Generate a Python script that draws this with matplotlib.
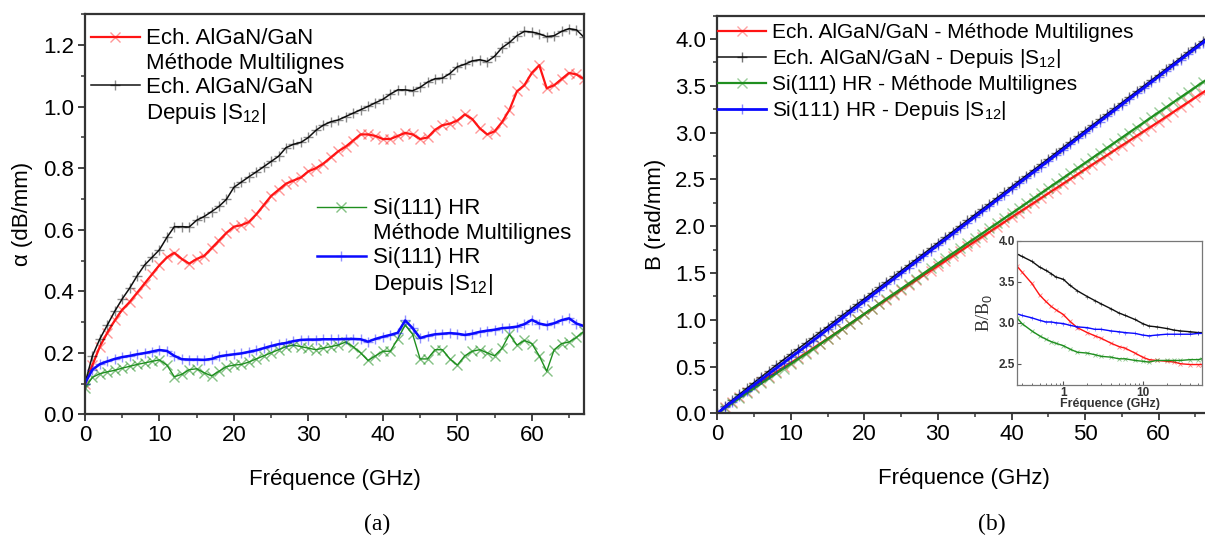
import numpy as np
import matplotlib
matplotlib.use("Agg")
import matplotlib.pyplot as plt
from matplotlib.lines import Line2D
from matplotlib.ticker import MultipleLocator

plt.rcParams['font.family'] = ['Liberation Sans', 'DejaVu Sans']
plt.rcParams['mathtext.fontset'] = 'custom'
plt.rcParams['mathtext.rm'] = 'Liberation Sans'
plt.rcParams['mathtext.it'] = 'Liberation Sans'

# ---- data ----
# (a) attenuation alpha (dB/mm), sampled every 1 GHz from 0 to 67 GHz
freq_a = np.arange(0, 68)
alpha_ech_multi = [0.10, 0.16, 0.22, 0.265, 0.305, 0.34, 0.365, 0.395, 0.425, 0.455,
                   0.485, 0.51, 0.525, 0.505, 0.49, 0.505, 0.515, 0.54, 0.565, 0.59,
                   0.61, 0.615, 0.625, 0.65, 0.68, 0.71, 0.73, 0.75, 0.76, 0.77,
                   0.79, 0.80, 0.815, 0.835, 0.855, 0.87, 0.89, 0.91, 0.91, 0.905,
                   0.895, 0.895, 0.905, 0.915, 0.91, 0.895, 0.90, 0.925, 0.94, 0.945,
                   0.955, 0.975, 0.96, 0.93, 0.91, 0.92, 0.95, 0.99, 1.05, 1.07,
                   1.11, 1.135, 1.06, 1.07, 1.09, 1.11, 1.105, 1.09]
alpha_ech_s12 = [0.10, 0.19, 0.245, 0.29, 0.335, 0.375, 0.41, 0.45, 0.485, 0.51,
                 0.535, 0.575, 0.61, 0.61, 0.609, 0.631, 0.643, 0.659, 0.676, 0.699,
                 0.738, 0.755, 0.772, 0.788, 0.805, 0.822, 0.839, 0.867, 0.878, 0.884,
                 0.90, 0.923, 0.94, 0.951, 0.957, 0.968, 0.979, 0.99, 1.001, 1.013,
                 1.024, 1.041, 1.055, 1.055, 1.052, 1.063, 1.08, 1.091, 1.093, 1.108,
                 1.13, 1.138, 1.149, 1.153, 1.147, 1.164, 1.192, 1.209, 1.231, 1.245,
                 1.243, 1.237, 1.228, 1.231, 1.245, 1.254, 1.25, 1.226]
alpha_si_multi = [0.085, 0.12, 0.132, 0.138, 0.143, 0.15, 0.156, 0.162, 0.167, 0.172,
                  0.177, 0.16, 0.122, 0.13, 0.145, 0.148, 0.135, 0.125, 0.14, 0.155,
                  0.16, 0.162, 0.17, 0.18, 0.19, 0.20, 0.21, 0.22, 0.225, 0.22,
                  0.215, 0.21, 0.215, 0.22, 0.225, 0.235, 0.22, 0.20, 0.175, 0.19,
                  0.205, 0.205, 0.245, 0.29, 0.26, 0.18, 0.18, 0.21, 0.21, 0.18,
                  0.16, 0.19, 0.205, 0.21, 0.20, 0.19, 0.215, 0.26, 0.225, 0.24,
                  0.23, 0.19, 0.14, 0.21, 0.23, 0.235, 0.25, 0.27]
alpha_si_s12 = [0.10, 0.145, 0.163, 0.172, 0.18, 0.186, 0.19, 0.195, 0.199, 0.204,
                0.209, 0.206, 0.19, 0.179, 0.178, 0.178, 0.177, 0.18, 0.188, 0.192,
                0.195, 0.198, 0.203, 0.208, 0.215, 0.222, 0.228, 0.232, 0.238, 0.242,
                0.243, 0.243, 0.244, 0.244, 0.244, 0.245, 0.245, 0.244, 0.236, 0.245,
                0.252, 0.258, 0.265, 0.305, 0.28, 0.248, 0.255, 0.26, 0.262, 0.264,
                0.262, 0.258, 0.262, 0.268, 0.272, 0.275, 0.28, 0.282, 0.285, 0.293,
                0.307, 0.295, 0.29, 0.296, 0.306, 0.312, 0.295, 0.287]

# (b) phase constant B (rad/mm), sampled every 1 GHz from 0 to 67 GHz
freq_b = np.arange(0, 68)
beta_ech_multi = [0.000, 0.065, 0.121, 0.176, 0.230, 0.284, 0.337, 0.389, 0.439, 0.490,
                  0.540, 0.590, 0.641, 0.694, 0.746, 0.798, 0.851, 0.903, 0.955, 1.008,
                  1.060, 1.112, 1.164, 1.215, 1.267, 1.319, 1.371, 1.422, 1.474, 1.525,
                  1.577, 1.629, 1.681, 1.732, 1.784, 1.836, 1.887, 1.939, 1.991, 2.043,
                  2.095, 2.146, 2.197, 2.248, 2.300, 2.351, 2.402, 2.454, 2.505, 2.556,
                  2.608, 2.659, 2.710, 2.760, 2.811, 2.862, 2.913, 2.964, 3.015, 3.065,
                  3.116, 3.168, 3.220, 3.272, 3.324, 3.376, 3.428, 3.480]
beta_ech_s12 = [0.000, 0.074, 0.139, 0.204, 0.266, 0.329, 0.391, 0.452, 0.513, 0.573,
                0.632, 0.691, 0.749, 0.809, 0.868, 0.927, 0.987, 1.047, 1.106, 1.166,
                1.225, 1.285, 1.345, 1.404, 1.464, 1.524, 1.584, 1.643, 1.703, 1.763,
                1.822, 1.882, 1.942, 2.002, 2.062, 2.122, 2.181, 2.241, 2.301, 2.361,
                2.421, 2.481, 2.541, 2.601, 2.661, 2.721, 2.781, 2.841, 2.901, 2.961,
                3.021, 3.081, 3.141, 3.200, 3.260, 3.320, 3.380, 3.440, 3.500, 3.560,
                3.619, 3.679, 3.739, 3.799, 3.860, 3.920, 3.980, 4.041]
beta_si_multi = [0.000, 0.057, 0.110, 0.163, 0.216, 0.269, 0.322, 0.375, 0.427, 0.479,
                 0.530, 0.582, 0.633, 0.687, 0.740, 0.795, 0.849, 0.902, 0.956, 1.010,
                 1.064, 1.118, 1.171, 1.225, 1.278, 1.332, 1.386, 1.440, 1.494, 1.548,
                 1.602, 1.655, 1.709, 1.762, 1.816, 1.869, 1.922, 1.976, 2.029, 2.083,
                 2.136, 2.190, 2.244, 2.298, 2.352, 2.406, 2.460, 2.514, 2.568, 2.622,
                 2.676, 2.730, 2.784, 2.838, 2.892, 2.946, 3.001, 3.055, 3.109, 3.163,
                 3.217, 3.270, 3.324, 3.378, 3.431, 3.485, 3.539, 3.592]
beta_si_s12 = [0.000, 0.063, 0.123, 0.183, 0.243, 0.303, 0.362, 0.422, 0.481, 0.539,
               0.598, 0.657, 0.716, 0.776, 0.836, 0.897, 0.957, 1.018, 1.078, 1.138,
               1.198, 1.258, 1.318, 1.378, 1.438, 1.498, 1.558, 1.618, 1.678, 1.738,
               1.798, 1.858, 1.918, 1.978, 2.038, 2.098, 2.158, 2.218, 2.278, 2.338,
               2.398, 2.458, 2.518, 2.578, 2.638, 2.698, 2.758, 2.818, 2.878, 2.938,
               2.999, 3.059, 3.119, 3.179, 3.239, 3.299, 3.359, 3.419, 3.479, 3.539,
               3.599, 3.659, 3.720, 3.780, 3.840, 3.900, 3.960, 4.020]

# inset: B/B0 versus frequency (log scale)
freq_in = [0.26, 0.3, 0.4, 0.5, 0.6, 0.7, 0.8, 1, 1.2, 1.5, 2, 2.5, 3, 4, 5, 6,
           8, 10, 12, 15, 20, 25, 30, 40, 50, 56]
ratio_ech_s12 = [3.84, 3.81, 3.75, 3.68, 3.64, 3.60, 3.56, 3.53, 3.46, 3.39, 3.32, 3.27,
                 3.23, 3.17, 3.12, 3.09, 3.04, 2.99, 2.96, 2.95, 2.93, 2.91, 2.90, 2.89,
                 2.88, 2.88]
ratio_ech_multi = [3.69, 3.62, 3.48, 3.34, 3.26, 3.20, 3.16, 3.10, 3.02, 2.94, 2.88, 2.84,
                   2.81, 2.75, 2.71, 2.69, 2.63, 2.58, 2.55, 2.54, 2.53, 2.52, 2.50, 2.49,
                   2.49, 2.49]
ratio_si_s12 = [3.11, 3.09, 3.06, 3.03, 3.01, 3.01, 3.00, 2.99, 2.97, 2.95, 2.94, 2.92,
                2.92, 2.90, 2.89, 2.88, 2.87, 2.85, 2.84, 2.85, 2.86, 2.86, 2.86, 2.86,
                2.87, 2.87]
ratio_si_multi = [3.06, 2.99, 2.90, 2.84, 2.80, 2.77, 2.75, 2.72, 2.68, 2.64, 2.63, 2.61,
                  2.59, 2.58, 2.56, 2.56, 2.54, 2.53, 2.52, 2.54, 2.54, 2.54, 2.54, 2.55,
                  2.55, 2.56]

RED = '#ff1414'
GREEN = '#1f8f1f'
BLUE = '#0a0aff'
BLACK = '#111111'
SPINE = '#333333'
FS = 16


def style_axes(ax, fs=FS):
    for s in ax.spines.values():
        s.set_color(SPINE)
        s.set_linewidth(1.6)
    ax.tick_params(which='both', direction='out', colors=SPINE, labelcolor='black',
                   top=False, right=False)
    ax.tick_params(which='major', length=5, width=1.3, labelsize=fs, pad=3)
    ax.tick_params(which='minor', length=3, width=1.1)


fig = plt.figure(figsize=(12.05, 5.4), dpi=100)

# ---------------- (a) ----------------
ax1 = fig.add_axes([0.0705, 0.2328, 0.4141, 0.7404])
l_r, = ax1.plot(freq_a, alpha_ech_multi, color=RED, lw=1.6, marker='x', ms=7, mew=1.0,
                mec=(1, 0.1, 0.1, 0.45))
l_k, = ax1.plot(freq_a, alpha_ech_s12, color=BLACK, lw=1.1, marker='+', ms=7, mew=1.0,
                mec=(0, 0, 0, 0.45))
l_g, = ax1.plot(freq_a, alpha_si_multi, color=GREEN, lw=1.0, marker='x', ms=7, mew=1.0,
                mec=(0.12, 0.56, 0.12, 0.55))
l_b, = ax1.plot(freq_a, alpha_si_s12, color=BLUE, lw=1.8, marker='+', ms=7, mew=1.0,
                mec=(0.05, 0.05, 1, 0.45))
ax1.set_xlim(0, 67)
ax1.set_ylim(0, 1.3)
ax1.xaxis.set_major_locator(MultipleLocator(10))
ax1.xaxis.set_minor_locator(MultipleLocator(5))
ax1.set_yticks(np.arange(0, 1.21, 0.2))
ax1.yaxis.set_minor_locator(MultipleLocator(0.1))
ax1.yaxis.set_major_formatter(matplotlib.ticker.FormatStrFormatter('%.1f'))
style_axes(ax1)
ax1.set_xlabel('Fréquence (GHz)', fontsize=FS, labelpad=16)
ax1.set_ylabel('α (dB/mm)', fontsize=FS, labelpad=7)

blank = Line2D([], [], linestyle='none')
leg1 = ax1.legend([l_r, blank, l_k, blank],
                  ['Ech. AlGaN/GaN', 'Méthode Multilignes', 'Ech. AlGaN/GaN',
                   'Depuis |S$_{12}$|'],
                  loc='upper left', bbox_to_anchor=(0.012, 0.965), frameon=False,
                  fontsize=FS, handlelength=2.2, handletextpad=0.3,
                  labelspacing=0.14, borderpad=0, borderaxespad=0, numpoints=1)
ax1.add_artist(leg1)
ax1.legend([l_g, blank, l_b, blank],
           ['Si(111) HR', 'Méthode Multilignes', 'Si(111) HR', 'Depuis |S$_{12}$|'],
           loc='upper left', bbox_to_anchor=(0.465, 0.54), frameon=False,
           fontsize=FS, handlelength=2.2, handletextpad=0.3,
           labelspacing=0.16, borderpad=0, borderaxespad=0, numpoints=1)

# ---------------- (b) ----------------
ax2 = fig.add_axes([0.5953, 0.2346, 0.4089, 0.7363])
ax2.plot(freq_b, beta_ech_multi, color=RED, lw=1.6, marker='x', ms=7, mew=1.0,
         mec=(1, 0.1, 0.1, 0.4), label='Ech. AlGaN/GaN - Méthode Multilignes')
ax2.plot(freq_b, beta_ech_s12, color=BLACK, lw=1.1, marker='+', ms=7, mew=1.0,
         mec=(0, 0, 0, 0.55), label='Ech. AlGaN/GaN - Depuis |S$_{12}$|')
ax2.plot(freq_b, beta_si_multi, color=GREEN, lw=1.6, marker='x', ms=7, mew=1.0,
         mec=(0.12, 0.56, 0.12, 0.45), label='Si(111) HR - Méthode Multilignes')
ax2.plot(freq_b, beta_si_s12, color=BLUE, lw=2.0, marker='+', ms=7, mew=1.0,
         mec=(0.05, 0.05, 1, 0.5), label='Si(111) HR - Depuis |S$_{12}$|')
ax2.set_xlim(0, 67)
ax2.set_ylim(0, 4.25)
ax2.xaxis.set_major_locator(MultipleLocator(10))
ax2.xaxis.set_minor_locator(MultipleLocator(5))
ax2.set_yticks(np.arange(0, 4.01, 0.5))
ax2.yaxis.set_minor_locator(MultipleLocator(0.25))
ax2.yaxis.set_major_formatter(matplotlib.ticker.FormatStrFormatter('%.1f'))
style_axes(ax2)
ax2.set_xlabel('Fréquence (GHz)', fontsize=FS, labelpad=16)
ax2.set_ylabel('B (rad/mm)', fontsize=FS, labelpad=7)
ax2.legend(loc='upper left', bbox_to_anchor=(0.002, 0.982), frameon=False,
           fontsize=15, handlelength=2.3, handletextpad=0.3, labelspacing=0.25,
           borderpad=0, borderaxespad=0, numpoints=1)

# inset
axi = fig.add_axes([0.844, 0.287, 0.1535, 0.267])
axi.plot(freq_in, ratio_ech_s12, color=BLACK, lw=1.0, marker='+', ms=3, mew=0.6,
         mec=(0, 0, 0, 0.5))
axi.plot(freq_in, ratio_ech_multi, color=RED, lw=1.0, marker='x', ms=3, mew=0.6,
         mec=(1, 0.1, 0.1, 0.5))
axi.plot(freq_in, ratio_si_s12, color=BLUE, lw=1.0, marker='+', ms=3, mew=0.6,
         mec=(0.05, 0.05, 1, 0.5))
axi.plot(freq_in, ratio_si_multi, color=GREEN, lw=1.0, marker='x', ms=3, mew=0.6,
         mec=(0.12, 0.56, 0.12, 0.5))
axi.set_xscale('log')
axi.set_xlim(0.26, 56)
axi.set_ylim(2.24, 4.0)
axi.set_yticks([2.5, 3.0, 3.5, 4.0])
axi.set_xticks([1, 10])
axi.set_xticklabels(['1', '10'])
axi.yaxis.set_major_formatter(matplotlib.ticker.FormatStrFormatter('%.1f'))
for s in axi.spines.values():
    s.set_color('#777777')
    s.set_linewidth(0.9)
axi.tick_params(which='both', direction='in', colors='#555555', labelcolor='#333333',
                labelsize=8.5, pad=1.5)
axi.tick_params(which='major', length=3)
axi.tick_params(which='minor', length=1.8)
for lab in axi.get_xticklabels() + axi.get_yticklabels():
    lab.set_fontweight('bold')
axi.set_xlabel('Fréquence (GHz)', fontsize=9, labelpad=-1, color='#333333',
               fontweight='bold')
axi.set_ylabel('B/B$_0$', fontsize=13, labelpad=3, family='Liberation Serif',
               color='#333333')

# panel letters
fig.text(0.313, 0.028, '(a)', ha='center', va='center', fontsize=17,
         family='Liberation Serif')
fig.text(0.823, 0.028, '(b)', ha='center', va='center', fontsize=17,
         family='Liberation Serif')

fig.savefig('out.png', dpi=100)
